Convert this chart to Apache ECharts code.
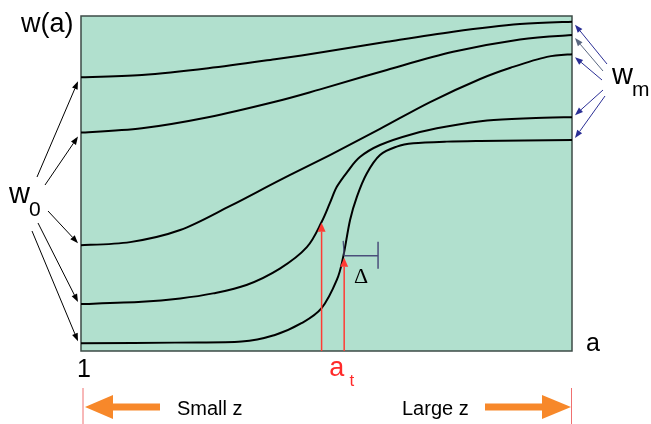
<!DOCTYPE html>
<html><head><meta charset="utf-8">
<script src="https://cdn.jsdelivr.net/npm/echarts@6/dist/echarts.min.js"></script>
<style>html,body{margin:0;padding:0;background:#fff}#c{width:651px;height:424px}</style>
</head><body><div id="c"></div>
<script>
// ---- data (a in 0..100 from "1" to right edge, w in 0..100) ----
const curve1A = [0, 12.4, 25.9, 39.5, 49.7, 62.3, 75.8, 89.4, 100];
const curve1W = [81.7, 82.4, 84.4, 87.1, 89.3, 92.3, 95.3, 97.6, 98.3];
const curve2A = [0, 12.4, 25.9, 39.5, 48.7, 62.3, 75.8, 89.4, 100];
const curve2W = [65.2, 66.5, 69.8, 74.4, 78.1, 83.9, 89.3, 93.0, 94.3];
const curve3A = [0, 10.0, 20.2, 30.4, 40.5, 50.7, 60.9, 71.1, 81.3, 88.0, 94.9, 100];
const curve3W = [31.6, 32.5, 36.1, 43.3, 51.0, 58.5, 66.3, 74.3, 81.2, 84.8, 87.8, 88.6];
const curve4A = [0, 12.4, 20.2, 26.9, 33.7, 40.5, 46.0, 49.0, 50.7, 52.1, 54.2, 56.8, 60.9, 67.6, 74.5, 82.7, 91.4, 100];
const curve4W = [14.0, 14.7, 15.7, 17.2, 19.7, 24.6, 31.0, 38.5, 44.2, 49.0, 53.4, 57.9, 61.5, 64.8, 67.0, 68.8, 69.5, 69.8];
const curve5A = [0, 19.1, 32.7, 39.5, 44.9, 49.0, 52.1, 53.4, 54.8, 56.2, 58.2, 60.9, 64.3, 67.7, 74.5, 81.3, 100];
const curve5W = [2.3, 2.5, 2.8, 4.8, 8.3, 12.8, 21.2, 28.1, 39.1, 46.1, 53.0, 58.5, 61.0, 62.0, 62.5, 62.7, 63.0];
// transition markers a_t (arrow positions and tip heights)
const atA = [49.0, 53.6];
const atTipW = [38.3, 27.8];
// Delta bracket
const deltaA = [53.6, 60.5];
const deltaW = 28.4;
// labels
const yLabel = 'w(a)';
const xLabel = 'a';
const xStartLabel = '1';
const zLabels = ['Small z', 'Large z'];

const curvesA = [curve1A, curve2A, curve3A, curve4A, curve5A];
const curvesW = [curve1W, curve2W, curve3W, curve4W, curve5W];

// smooth curve through data points (Catmull-Rom -> cubic Bezier), positions via the axes
function curveRenderer(A, W) {
  return function (params, api) {
    if (params.dataIndex !== 0) return null;
    const p = A.map((a, j) => api.coord([a, W[j]]));
    const n = p.length;
    let d = 'M' + p[0][0] + ' ' + p[0][1];
    for (let i = 0; i < n - 1; i++) {
      const p0 = p[Math.max(i - 1, 0)], p1 = p[i], p2 = p[i + 1], p3 = p[Math.min(i + 2, n - 1)];
      const c1 = [p1[0] + (p2[0] - p0[0]) / 6, p1[1] + (p2[1] - p0[1]) / 6];
      const c2 = [p2[0] - (p3[0] - p1[0]) / 6, p2[1] - (p3[1] - p1[1]) / 6];
      d += ' C' + c1[0] + ' ' + c1[1] + ' ' + c2[0] + ' ' + c2[1] + ' ' + p2[0] + ' ' + p2[1];
    }
    return {type: 'path', shape: {pathData: d}, style: {stroke: '#000', fill: null, lineWidth: 2}};
  };
}

const chart = echarts.init(document.getElementById('c'), null, {renderer: 'canvas'});
chart.setOption({
  animation: false,
  grid: {left: 81, top: 16, width: 491, height: 335, show: true,
         backgroundColor: '#b1e0ce', borderColor: '#3d4b47', borderWidth: 1.5},
  xAxis: {type: 'value', min: 0, max: 100, show: false},
  yAxis: {type: 'value', min: 0, max: 100, show: false},
  series: curvesA.map((A, i) => ({
    type: 'custom', clip: false,
    renderItem: curveRenderer(A, curvesW[i]),
    encode: {x: 0, y: 1},
    data: A.map((a, j) => [a, curvesW[i][j]])
  }))
});

const P = (a, w) => chart.convertToPixel({gridIndex: 0}, [a, w]);
function arrow(x1, y1, x2, y2, color, lw, hl, hw) {
  const ang = Math.atan2(y2 - y1, x2 - x1);
  const c = Math.cos(ang), s = Math.sin(ang);
  const bx = x2 - hl * c, by = y2 - hl * s;
  const px = -s, py = c;
  return [
    {type: 'line', shape: {x1, y1, x2: bx, y2: by}, style: {stroke: color, lineWidth: lw}, z: 100},
    {type: 'polygon', shape: {points: [[x2, y2], [bx + px * hw, by + py * hw], [bx - px * hw, by - py * hw]]},
     style: {fill: color}, z: 100}
  ];
}
function text(t, x, y, font, color, align) {
  return {type: 'text', x, y, z: 110,
    style: {text: t, font, fill: color || '#000', textAlign: align || 'left', textVerticalAlign: 'middle'}};
}

let g = [];
// left w0 arrows to curve starts
const leftSrc = [[37, 177], [45, 185], [48, 211], [38, 223], [32, 231]];
leftSrc.forEach((s, i) => {
  const t = P(0, curvesW[i][0]);
  g = g.concat(arrow(s[0], s[1], t[0] - 3, t[1] + (i < 2 ? 4 : -2), '#000', 1, 8, 3));
});
// right wm arrows to curve ends
const rightSrc = [[607, 64], [603, 71], [602, 80], [603, 90], [605, 96]];
const rightCol = ['#2b2f95', '#5a6780', '#2b2f95', '#2b2f95', '#2b2f95'];
rightSrc.forEach((s, i) => {
  const A = curvesA[i];
  const t = P(A[A.length - 1], curvesW[i][A.length - 1]);
  g = g.concat(arrow(s[0], s[1], t[0] + 3, t[1] + (i < 3 ? 3 : -2), rightCol[i], 1, 8, 3));
});
// a_t arrows
atA.forEach((a, i) => {
  const b = P(a, 0), t = P(a, atTipW[i]);
  g = g.concat(arrow(b[0], b[1], t[0], t[1], '#ff3b33', 1.5, 9, 4));
});
// Delta bracket
const d1 = P(deltaA[0], deltaW), d2 = P(deltaA[1], deltaW);
g.push({type: 'line', shape: {x1: d1[0], y1: d1[1], x2: d2[0], y2: d2[1]}, style: {stroke: '#4a4f7a', lineWidth: 1.5}, z: 100});
g.push({type: 'line', shape: {x1: d2[0], y1: d2[1] - 14, x2: d2[0], y2: d2[1] + 13}, style: {stroke: '#4a4f7a', lineWidth: 1.5}, z: 100});
g.push({type: 'line', shape: {x1: d1[0] - 1, y1: d1[1] - 15, x2: d1[0], y2: d1[1]}, style: {stroke: '#4a4f7a', lineWidth: 1.2}, z: 100});
g.push(text('\u0394', (d1[0] + d2[0]) / 2, d1[1] + 21, '22px "Liberation Serif"', '#000', 'center'));
// axis labels
g.push(text(yLabel, 21, 25, '27px "Liberation Sans"'));
g.push(text(xLabel, 586, 344, '25px "Liberation Sans"'));
const o = P(0, 0);
g.push(text(xStartLabel, o[0] + 3, 370, '25px "Liberation Sans"', '#000', 'center'));
const at1 = P((atA[0] + atA[1]) / 2, 0);
g.push(text('a', at1[0] + 4, 369, '27px "Liberation Sans"', '#ff2a2a', 'center'));
g.push(text('t', at1[0] + 19, 381, '17px "Liberation Sans"', '#ff2a2a', 'center'));
// w0 and wm labels
g.push(text('w', 9, 195, '29px "Liberation Sans"'));
g.push(text('0', 29, 210, '21px "Liberation Sans"'));
g.push(text('w', 612, 76, '29px "Liberation Sans"'));
g.push(text('m', 632, 90, '21px "Liberation Sans"'));
// bottom: red edge ticks, orange arrows, texts
const right = P(100, 0);
g.push({type: 'line', shape: {x1: o[0] + 2, y1: 388, x2: o[0] + 2, y2: 424}, style: {stroke: '#f07070', lineWidth: 1}, z: 100});
g.push({type: 'line', shape: {x1: right[0] - 0.5, y1: 388, x2: right[0] - 0.5, y2: 424}, style: {stroke: '#f07070', lineWidth: 1}, z: 100});
g = g.concat(arrow(160, 407, o[0] + 4, 407, '#f7882a', 7, 28, 12));
g = g.concat(arrow(485, 407, right[0] - 1, 407, '#f7882a', 7, 29, 12));
g.push(text(zLabels[0], 177, 409, '20px "Liberation Sans"'));
g.push(text(zLabels[1], 402, 409, '20px "Liberation Sans"'));

chart.setOption({graphic: {elements: g}});
</script>
</body></html>
